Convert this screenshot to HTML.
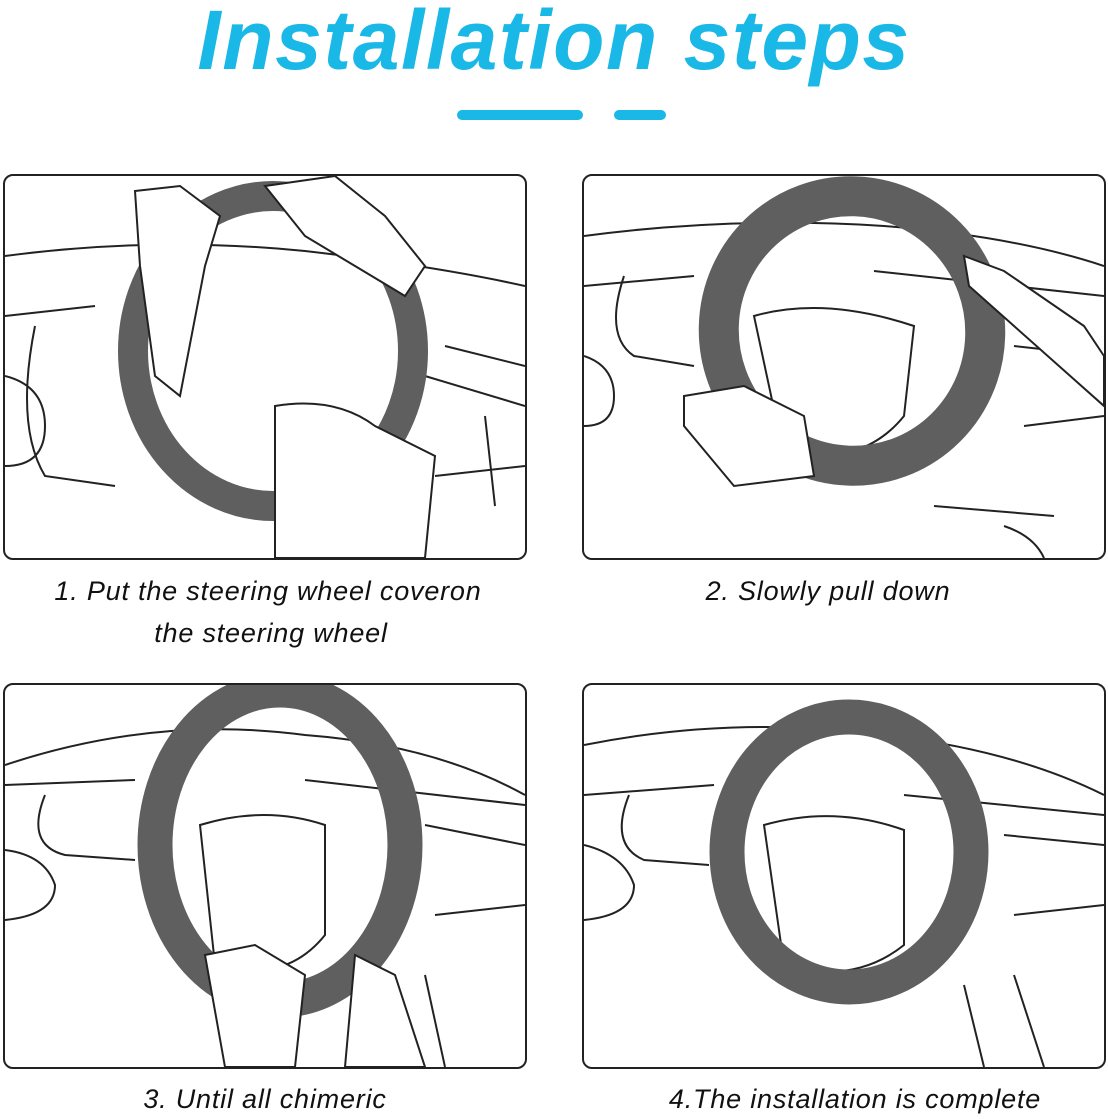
<!DOCTYPE html>
<html><head><style>
html,body{margin:0;padding:0;background:#fff;}
body{width:1108px;height:1119px;position:relative;overflow:hidden;font-family:"Liberation Sans",sans-serif;}
.title{position:absolute;left:0;width:1108px;top:-8px;text-align:center;font-size:84px;font-weight:bold;font-style:italic;color:#1ab8e6;letter-spacing:1.5px;}
.bar{position:absolute;height:10px;background:#1ab8e6;border-radius:5px;top:110px;}
.panel{position:absolute;width:520px;height:382px;border:2px solid #222;border-radius:10px;overflow:hidden;background:#fff;}
.cap{position:absolute;font-style:italic;font-size:27px;letter-spacing:0.8px;color:#111;text-align:center;white-space:nowrap;}
svg{position:absolute;left:0;top:0;}
</style></head><body>
<div class="title">Installation steps</div>
<div class="bar" style="left:457px;width:126px"></div>
<div class="bar" style="left:614px;width:52px"></div>

<div class="panel" style="left:3px;top:174px">
<svg width="520" height="382" fill="none" stroke="#222" stroke-width="2">
<path d="M0 80 Q150 60 300 75 Q430 90 520 110"/><path d="M0 140 L90 130 M440 170 L520 190"/>
<path d="M30 150 Q10 250 40 300 L110 310"/><path d="M0 200 Q40 210 40 250 Q40 290 0 290"/>
<path d="M420 200 L520 230 M430 300 L520 290 M480 240 L490 330"/>
<ellipse cx="268" cy="175" rx="140" ry="155" stroke="#5f5f5f" stroke-width="30"/>
<path d="M210 32 Q250 22 290 28" stroke="#5f5f5f" stroke-width="14" stroke-linecap="round"/>
<path d="M130 15 L175 10 L215 40 L200 90 L175 220 L150 200 L135 90 Z" fill="#fff"/>
<path d="M260 10 L330 0 L380 40 L420 90 L400 120 L300 60 Z" fill="#fff"/>
<path d="M270 230 Q330 220 370 250 L430 280 L420 382 L270 382 Z" fill="#fff"/>
</svg></div>

<div class="panel" style="left:582px;top:174px">
<svg width="520" height="382" fill="none" stroke="#222" stroke-width="2">
<path d="M0 60 Q150 40 300 50 Q430 60 520 90"/><path d="M0 110 L110 100 M290 95 L520 120"/>
<path d="M40 100 Q20 160 50 180 L110 190"/><path d="M0 180 Q30 190 30 220 Q30 250 0 250"/>
<path d="M430 170 L520 180 M440 250 L520 240 M350 330 L470 340 M420 350 Q450 360 460 382"/>
<path d="M170 140 Q240 120 330 150 L320 240 Q280 290 200 280 Z"/>
<ellipse cx="268" cy="155" rx="133" ry="135" stroke="#5f5f5f" stroke-width="40" transform="rotate(-20 268 155)"/>
<path d="M380 80 L420 95 L500 150 L520 180 L520 230 L430 150 L385 110 Z" fill="#fff"/>
<path d="M100 220 L160 210 L220 240 L230 300 L150 310 L100 250 Z" fill="#fff"/>
</svg></div>

<div class="panel" style="left:3px;top:683px">
<svg width="520" height="382" fill="none" stroke="#222" stroke-width="2">
<path d="M0 80 Q150 30 300 50 Q430 60 520 110"/><path d="M0 100 L130 95 M300 95 L520 120"/>
<path d="M40 110 Q20 160 60 170 L130 175"/><path d="M0 165 Q40 170 50 200 Q50 230 0 235"/>
<path d="M420 140 L520 160 M430 230 L520 220 M420 290 L440 382 M380 330 L410 382"/>
<path d="M195 140 Q260 120 320 140 L320 250 Q280 300 210 280 Z"/>
<ellipse cx="275" cy="160" rx="125" ry="155" stroke="#5f5f5f" stroke-width="35"/>
<path d="M200 270 L250 260 L300 290 L290 382 L220 382 Z" fill="#fff"/>
<path d="M350 270 L390 290 L420 382 L340 382 Z" fill="#fff"/>
</svg></div>

<div class="panel" style="left:582px;top:683px">
<svg width="520" height="382" fill="none" stroke="#222" stroke-width="2">
<path d="M0 60 Q150 30 300 50 Q430 65 520 110"/><path d="M0 110 L130 100 M320 110 L520 130"/>
<path d="M45 110 Q25 160 60 175 L125 180"/><path d="M0 160 Q40 170 50 200 Q50 230 0 235"/>
<path d="M420 150 L520 160 M430 230 L520 220 M430 290 L460 382 M380 300 L400 382"/>
<path d="M180 140 Q250 120 320 145 L320 260 Q270 300 200 280 Z"/>
<ellipse cx="265" cy="167" rx="122" ry="135" stroke="#5f5f5f" stroke-width="35"/>
</svg></div>

<div class="cap" style="left:0;width:536px;top:576px">1. Put the steering wheel coveron</div>
<div class="cap" style="left:0;width:542px;top:618px">the steering wheel</div>
<div class="cap" style="left:578px;width:500px;top:576px">2. Slowly pull down</div>
<div class="cap" style="left:0;width:530px;top:1084px">3. Until all chimeric</div>
<div class="cap" style="left:580px;width:550px;top:1084px">4.The installation is complete</div>
</body></html>
